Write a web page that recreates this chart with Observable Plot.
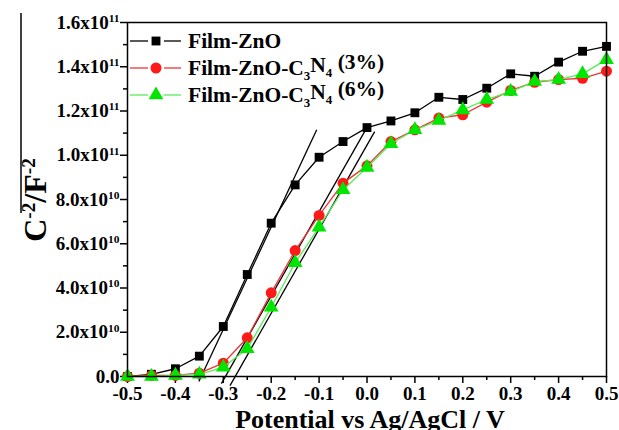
<!DOCTYPE html>
<html><head><meta charset="utf-8">
<script src="https://cdn.jsdelivr.net/npm/d3@7"></script>
<script src="https://cdn.jsdelivr.net/npm/@observablehq/plot@0.6"></script>
<style>body{margin:0;background:#fff} #chart{width:619px;height:430px}</style>
</head><body><div id="chart"></div>
<script>
// ---- data ----
const potential = [-0.5,-0.45,-0.4,-0.35,-0.3,-0.25,-0.2,-0.15,-0.1,-0.05,0,0.05,0.1,0.15,0.2,0.25,0.3,0.35,0.4,0.45,0.5];
const filmZnO   = [0.0,0.1,0.35,0.92,2.26,4.61,6.93,8.66,9.91,10.62,11.25,11.55,11.92,12.62,12.52,13.03,13.68,13.57,14.21,14.70,14.92].map(v=>v*1e10);
const filmC3N4_3 = [0.0,0.05,0.05,0.15,0.6,1.75,3.78,5.69,7.28,8.74,9.52,10.62,11.15,11.68,11.83,12.4,12.93,13.3,13.42,13.48,13.8].map(v=>v*1e10);
const filmC3N4_6 = [0.0,0.0,0.05,0.1,0.42,1.25,3.13,5.14,6.75,8.44,9.45,10.52,11.15,11.57,12.05,12.52,12.88,13.33,13.42,13.68,14.32].map(v=>v*1e10);
const seriesNames = ["Film-ZnO", "Film-ZnO-C_3N_4 (3%)", "Film-ZnO-C_3N_4 (6%)"];
const seriesColors = ["#000000", "#ff1a1a", "#00e600"];
const lineColors = ["#000000", "#ee3333", "#55ee55"];
const seriesSymbols = ["square", "circle", "triangle"];
// tangent (Mott-Schottky extrapolation) lines
const tangentX1 = [-0.351, -0.304, -0.286];
const tangentY1 = [-0.23e10, -0.32e10, -0.41e10];
const tangentX2 = [-0.105, -0.005, 0.016];
const tangentY2 = [11.15e10, 11.07e10, 11.07e10];
// ticks
const xMajorTicks = [-0.5,-0.4,-0.3,-0.2,-0.1,0,0.1,0.2,0.3,0.4,0.5];
const xMinorTicks = [-0.45,-0.35,-0.25,-0.15,-0.05,0.05,0.15,0.25,0.35,0.45];
const yMajorTicks = [0,2e10,4e10,6e10,8e10,1e11,1.2e11,1.4e11,1.6e11];
const yMinorTicks = [1e10,3e10,5e10,7e10,9e10,1.1e11,1.3e11,1.5e11];
const xTitle = "Potential vs Ag/AgCl / V";

// ---- build ----
const allSeries = [filmZnO, filmC3N4_3, filmC3N4_6];
const rows = allSeries.flatMap((vals, s) => potential.map((p, i) => ({p, c: vals[i], s})));
const tangents = tangentX1.map((x1, i) => ({x1, y1: tangentY1[i], x2: tangentX2[i], y2: tangentY2[i]}));
const dotR = [5, 5.5, 5.5];

const yFmt = d => {
  if (d === 0) return "0.0";
  const e = Math.floor(Math.log10(d) + 1e-9);
  return (d / 10 ** e).toFixed(1) + "x10^" + e;
};

const seriesMarks = allSeries.flatMap((_, s) => {
  const sub = rows.filter(r => r.s === s);
  return [
    Plot.line(sub, {x: "p", y: "c", stroke: lineColors[s], strokeWidth: 1.3}),
    Plot.dot(sub, {x: "p", y: "c", symbol: seriesSymbols[s], fill: seriesColors[s], r: dotR[s], stroke: "none"})
  ];
});

const FONT = "'Liberation Serif', 'Times New Roman', serif";
const plot = Plot.plot({
  width: 619, height: 430,
  marginLeft: 127, marginRight: 13, marginTop: 22, marginBottom: 54,
  x: {domain: [-0.5, 0.5]},
  y: {domain: [0, 1.6e11]},
  style: {fontFamily: FONT, fontWeight: "bold", fontSize: "19px", color: "black", background: "white", overflow: "visible"},
  marks: [
    Plot.axisX({ticks: xMinorTicks, tickSize: 4, tickFormat: () => "", label: null, strokeWidth: 1.5}),
    Plot.axisX({ticks: xMajorTicks, tickSize: 7, tickPadding: 3, tickFormat: d => d.toFixed(1), label: null, strokeWidth: 1.5, fontSize: 19}),
    Plot.axisY({ticks: yMinorTicks, tickSize: 4, tickFormat: () => "", label: null, strokeWidth: 1.5}),
    Plot.axisY({ticks: yMajorTicks, tickSize: 7, tickPadding: 1, tickFormat: yFmt, label: null, strokeWidth: 1.5, fontSize: 19}),
    Plot.link(tangents, {x1: "x1", y1: "y1", x2: "x2", y2: "y2", stroke: "black", strokeWidth: 1.3}),
    ...seriesMarks,
    Plot.frame({stroke: "black", strokeWidth: 1.5})
  ]
});
document.getElementById("chart").appendChild(plot);

// ---- text refinements (superscripts/subscripts, titles, legend) ----
const svg = d3.select(plot);
svg.selectAll('g[aria-label="y-axis tick label"] text').each(function () {
  const t = this.textContent;
  if (t.includes("^")) {
    const [m, e] = t.split("^");
    const el = d3.select(this);
    el.text(m);
    el.append("tspan").attr("dy", "-0.6em").attr("font-size", "0.6em").text(e);
  }
});

// y title
const yt = svg.append("text")
  .attr("transform", "translate(46,200) rotate(-90)")
  .attr("text-anchor", "middle")
  .attr("font-size", 32).attr("font-weight", "bold")
  .attr("font-family", FONT).attr("fill", "black");
yt.append("tspan").text("C");
yt.append("tspan").attr("dy", "-0.55em").attr("font-size", "0.6em").text("-2");
yt.append("tspan").attr("dy", "0.33em").text("/F");
yt.append("tspan").attr("dy", "-0.55em").attr("font-size", "0.6em").text("-2");
svg.append("line").attr("x1", 21).attr("x2", 21).attr("y1", 13).attr("y2", 213).attr("stroke", "black").attr("stroke-width", 1.5);

// x title
svg.append("text").attr("x", 370).attr("y", 428).attr("text-anchor", "middle")
  .attr("font-size", 26).attr("font-weight", "bold")
  .attr("font-family", FONT).attr("fill", "black").text(xTitle);

// legend
const legendY = [41, 68, 95];
seriesNames.forEach((name, s) => {
  const y = legendY[s];
  const g = svg.append("g");
  g.append("line").attr("x1", 130).attr("x2", 148).attr("y1", y).attr("y2", y).attr("stroke", lineColors[s]).attr("stroke-width", 1.3);
  g.append("line").attr("x1", 164).attr("x2", 181).attr("y1", y).attr("y2", y).attr("stroke", lineColors[s]).attr("stroke-width", 1.3);
  const sym = {square: d3.symbolSquare, circle: d3.symbolCircle, triangle: d3.symbolTriangle}[seriesSymbols[s]];
  const r = dotR[s];
  g.append("path").attr("d", d3.symbol(sym, Math.PI * r * r)()).attr("transform", `translate(156,${y})`).attr("fill", seriesColors[s]);
  const txt = g.append("text").attr("x", 188).attr("y", y + 7).attr("text-anchor", "start")
    .attr("font-size", 21.5).attr("font-weight", "bold")
    .attr("font-family", FONT).attr("fill", "black");
  let pending = 0;
  name.split(/(_\d)/).forEach(part => {
    if (!part) return;
    if (part.startsWith("_")) {
      txt.append("tspan").attr("dy", (0.35 - pending) + "em").attr("font-size", "0.6em").text(part.slice(1));
      pending = 0.35;
    } else {
      const ts = txt.append("tspan").text(part);
      if (pending) { ts.attr("dy", (-pending) + "em"); pending = 0; }
    }
  });
});
</script>
</body></html>
